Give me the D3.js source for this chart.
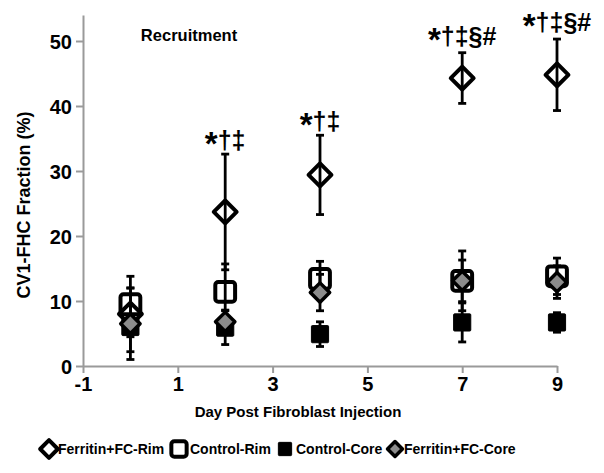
<!DOCTYPE html>
<html>
<head>
<meta charset="utf-8">
<script src="https://cdn.jsdelivr.net/npm/d3@7"></script>
<style>
  body { margin: 0; background: #fff; }
  text { font-family: "Liberation Sans", Arial, sans-serif; font-weight: bold; fill: #000; }
</style>
</head>
<body>
<svg id="chart" width="604" height="473"></svg>
<script>
const days = [0, 2, 4, 7, 9];
const xTicks = [-1, 1, 3, 5, 7, 9];
const yTicks = [0, 10, 20, 30, 40, 50];

// mean and error (+/-) per series
const ferritinRim = [8.0, 23.7, 29.4, 44.3, 44.8];
const ferritinRimErr = [5.8, 8.9, 6.1, 3.9, 5.5];
const controlRim = [9.5, 11.4, 13.4, 13.1, 13.8];
const controlRimErr = [2.5, 4.3, 2.7, 4.6, 2.8];
const controlCore = [6.0, 5.9, 4.9, 6.7, 6.7];
const controlCoreErr = [1.5, 2.6, 1.9, 3.0, 1.5];
const ferritinCore = [6.5, 6.8, 11.3, 13.1, 12.9];
const ferritinCoreErr = [5.5, 1.8, 2.8, 3.2, 2.5];

const sigLabels = ['', '*†‡', '*†‡', '*†‡§#', '*†‡§#'];

const series = [
  { name: 'Ferritin+FC-Rim', mean: ferritinRim, err: ferritinRimErr, shape: 'diamond', open: true, fill: 'none' },
  { name: 'Control-Rim', mean: controlRim, err: controlRimErr, shape: 'square', open: true, fill: 'none' },
  { name: 'Control-Core', mean: controlCore, err: controlCoreErr, shape: 'square', open: false, fill: '#000' },
  { name: 'Ferritin+FC-Core', mean: ferritinCore, err: ferritinCoreErr, shape: 'diamond', open: false, fill: '#8c8c8c' }
];

const svg = d3.select('#chart');
const x = d3.scaleLinear().domain([-1, 9]).range([83, 557]);
const y = d3.scaleLinear().domain([0, 54]).range([366, 15]);

const axisColor = '#9a9a9a';

// y axis
const yAxis = svg.append('g').attr('transform', 'translate(83,0)')
  .call(d3.axisLeft(y).tickValues(yTicks).tickSize(7).tickSizeOuter(0).tickPadding(4).tickFormat(d => String(d)));
yAxis.select('.domain').attr('stroke', axisColor).attr('stroke-width', 2);
yAxis.selectAll('.tick line').attr('stroke', axisColor).attr('stroke-width', 2);
yAxis.selectAll('.tick text').attr('font-size', 20).attr('dy', '0.36em')
  .style('font-family', '"Liberation Sans", Arial, sans-serif').style('font-weight', 'bold').attr('fill', '#000');

// x axis
const xAxis = svg.append('g').attr('transform', 'translate(0,366)')
  .call(d3.axisBottom(x).tickValues(xTicks).tickSize(7).tickSizeOuter(0).tickPadding(4).tickFormat(d => String(d)));
xAxis.select('.domain').attr('stroke', axisColor).attr('stroke-width', 2);
xAxis.selectAll('.tick line').attr('stroke', axisColor).attr('stroke-width', 2);
xAxis.selectAll('.tick text').attr('font-size', 20)
  .style('font-family', '"Liberation Sans", Arial, sans-serif').style('font-weight', 'bold').attr('fill', '#000');

function drawMarker(g, s, size, fillOverride) {
  const fill = fillOverride || s.fill;
  if (s.shape === 'square') {
    const w = s.open ? size * 0.9 : size * 0.78;
    g.append('rect')
      .attr('x', -w / 2).attr('y', -w / 2).attr('width', w).attr('height', w)
      .attr('rx', s.open ? 3 : 1)
      .attr('fill', fill).attr('stroke', '#000')
      .attr('stroke-width', s.open ? 4 : 1);
  } else {
    const r = s.open ? size * 0.52 : size * 0.44;
    g.append('path')
      .attr('d', `M0,${-r}L${r},0L0,${r}L${-r},0Z`)
      .attr('fill', fill).attr('stroke', '#000')
      .attr('stroke-width', s.open ? 4 : 3.5)
      .attr('stroke-linejoin', 'round');
  }
}

// marks
series.forEach((s) => {
  const g = svg.append('g');
  days.forEach((d, i) => {
    const cx = x(d);
    const top = y(s.mean[i] + s.err[i]);
    const bot = y(s.mean[i] - s.err[i]);
    g.append('line').attr('x1', cx).attr('x2', cx).attr('y1', top).attr('y2', bot)
      .attr('stroke', '#000').attr('stroke-width', 2.8);
    [top, bot].forEach((yy) => {
      g.append('line').attr('x1', cx - 4).attr('x2', cx + 4).attr('y1', yy).attr('y2', yy)
        .attr('stroke', '#000').attr('stroke-width', 2.8);
    });
    const m = g.append('g').attr('transform', `translate(${cx},${y(s.mean[i])})`);
    drawMarker(m, s, 22);
  });
});

// significance labels above Ferritin+FC-Rim (big asterisk, smaller symbols)
days.forEach((d, i) => {
  if (!sigLabels[i]) return;
  const t = svg.append('text')
    .attr('x', x(d))
    .attr('y', y(ferritinRim[i] + ferritinRimErr[i]) - (i >= 3 ? 8 : 5))
    .attr('text-anchor', 'middle')
    .attr('font-size', 25);
  t.append('tspan').attr('font-size', 33).attr('dy', 6).text(sigLabels[i][0]);
  t.append('tspan').attr('dy', -6).text(sigLabels[i].slice(1));
});

// titles
svg.append('text').attr('x', 189).attr('y', 41).attr('text-anchor', 'middle')
  .attr('font-size', 16.5).text('Recruitment');

svg.append('text').attr('x', 298).attr('y', 417).attr('text-anchor', 'middle')
  .attr('font-size', 15).text('Day Post Fibroblast Injection');

svg.append('text').attr('transform', 'translate(30,205) rotate(-90)').attr('text-anchor', 'middle')
  .attr('font-size', 18).text('CV1-FHC Fraction (%)');

// legend
const legendX = [49, 179, 285, 395];
series.forEach((s, i) => {
  const g = svg.append('g').attr('transform', `translate(${legendX[i]},449)`);
  drawMarker(g, s, 17, s.open ? '#fff' : null);
  g.append('text').attr('x', s.shape === 'diamond' ? 9 : 11).attr('y', 5)
    .attr('font-size', 14).text(s.name);
});
</script>
</body>
</html>
